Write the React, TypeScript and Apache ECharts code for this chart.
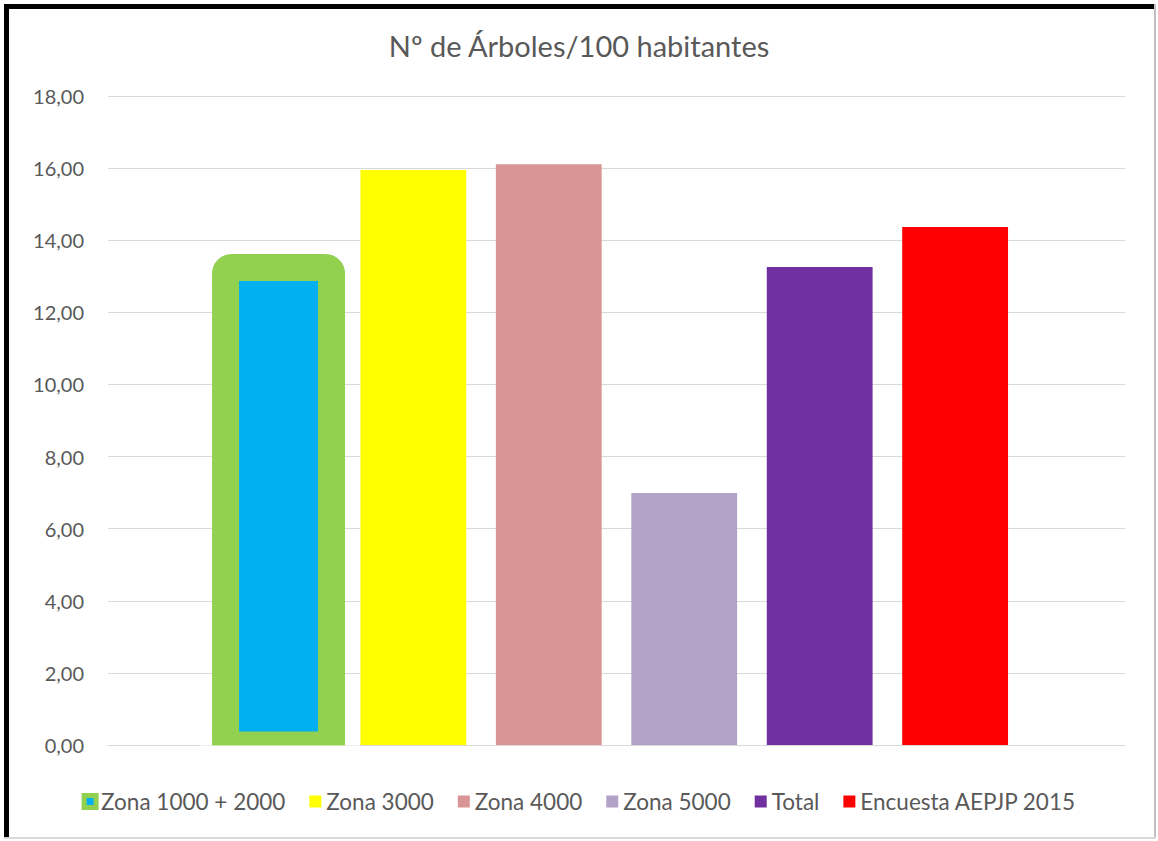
import React, { useEffect, useRef } from "react";
import * as echarts from "echarts";

const titleText = "Nº de Árboles/100 habitantes";
const categories = [""];
const seriesNames = ["Zona 1000 + 2000", "Zona 3000", "Zona 4000", "Zona 5000", "Total", "Encuesta AEPJP 2015"];
const seriesValues = [13.24, 15.95, 16.11, 6.99, 13.26, 14.37];
const seriesColors = ["#00b0f0", "#ffff00", "#d99594", "#b3a2c7", "#7030a0", "#ff0000"];
const frameColor = "#92d050";
const yTicks = { min: 0, max: 18, interval: 2 };

export default function App() {
  const ref = useRef<HTMLDivElement>(null);
  useEffect(() => {
    if (!ref.current) return;
    const chart = echarts.init(ref.current, undefined, { renderer: "svg" });
    const font = "Lato, 'Open Sans', sans-serif";

    // layout (styles only)
    const gridTop = 96;
    const gridBottomPx = 745;
    const plotH = gridBottomPx - gridTop;
    const pxPerUnit = plotH / (yTicks.max - yTicks.min);
    const frameW = 27; // green frame stroke width, centred on the bar edge as in the original
    const barW = 106;
    const half = frameW / 2;
    // hidden value axis for the framed bar: its bar box spans the bar grown by half the stroke
    const v0 = seriesValues[0];
    const framedScale = (v0 * pxPerUnit + 2 * half) / v0;
    const y1Min = half / framedScale;
    const y1Max = y1Min + plotH / framedScale;

    const mainSeries: any[] = [
      { name: "_slot0", type: "bar", xAxisIndex: 0, yAxisIndex: 0, data: [null], barGap: "28%", barCategoryGap: "23%" },
    ];
    for (let i = 1; i < seriesNames.length; i++) {
      mainSeries.push({
        name: seriesNames[i],
        type: "bar",
        xAxisIndex: 0,
        yAxisIndex: 0,
        data: [seriesValues[i]],
        barGap: "28%",
        barCategoryGap: "23%",
        itemStyle: { color: seriesColors[i] },
      });
    }
    const framedSeries: any[] = [
      {
        name: seriesNames[0],
        type: "bar",
        xAxisIndex: 1,
        yAxisIndex: 1,
        data: [v0],
        barWidth: barW + frameW,
        barGap: "26.2%",
        z: 3,
        itemStyle: { color: seriesColors[0], borderColor: frameColor, borderWidth: frameW, borderRadius: [6, 6, 0, 0] },
      },
    ];
    for (let i = 1; i < seriesNames.length; i++) {
      framedSeries.push({
        name: "_ghost" + i,
        type: "bar",
        xAxisIndex: 1,
        yAxisIndex: 1,
        data: [null],
        barWidth: barW,
        barGap: "26.2%",
      });
    }

    chart.setOption({
      animation: false,
      backgroundColor: "#ffffff",
      title: {
        text: titleText,
        left: "center",
        top: 26,
        textStyle: { fontFamily: font, fontSize: 29, fontWeight: "normal", color: "#595959" },
      },
      grid: { left: 108, right: 33, top: gridTop, bottom: 841 - gridBottomPx, containLabel: false },
      legend: {
        top: 785,
        left: "center",
        itemWidth: 12,
        itemHeight: 12,
        itemGap: 24,
        textStyle: { fontFamily: font, fontSize: 22.5, color: "#595959" },
        data: seriesNames.map((name, i) => ({
          name,
          icon: "rect",
          itemStyle:
            i === 0
              ? { color: seriesColors[0], borderColor: frameColor, borderWidth: 5 }
              : { color: seriesColors[i], borderWidth: 0 },
        })),
      },
      xAxis: [
        {
          type: "category",
          data: categories,
          axisLine: { show: true, lineStyle: { color: "#d9d9d9" } },
          axisTick: { show: false },
          axisLabel: { show: false },
        },
        { type: "category", data: categories, show: false },
      ],
      yAxis: [
        {
          type: "value",
          min: yTicks.min,
          max: yTicks.max,
          interval: yTicks.interval,
          axisLine: { show: false },
          axisTick: { show: false },
          splitLine: { lineStyle: { color: "#d9d9d9" } },
          axisLabel: {
            margin: 24,
            fontFamily: font,
            fontSize: 20,
            color: "#595959",
            formatter: (v: number) => v.toFixed(2).replace(".", ","),
          },
        },
        { type: "value", min: y1Min, max: y1Max, show: false, splitLine: { show: false } },
      ],
      series: [...mainSeries, ...framedSeries],
      graphic: [
        { type: "rect", z: 100, shape: { x: 200, y: gridBottomPx + 0.5, width: 160, height: 16 }, style: { fill: "#ffffff" } },
        { type: "rect", z: 100, shape: { x: 4, y: 4, width: 5, height: 834 }, style: { fill: "#000000" } },
        { type: "rect", z: 100, shape: { x: 4, y: 4, width: 1152, height: 5 }, style: { fill: "#000000" } },
        { type: "rect", z: 100, shape: { x: 1154, y: 4, width: 2, height: 834 }, style: { fill: "#bfbfbf" } },
        { type: "rect", z: 100, shape: { x: 4, y: 837, width: 1152, height: 2 }, style: { fill: "#d9d9d9" } },
      ],
    });
    return () => chart.dispose();
  }, []);
  return (
    <div
      ref={ref}
      style={{ position: "absolute", left: 0, top: 0, width: 1158, height: 841, background: "#fff" }}
    />
  );
}
